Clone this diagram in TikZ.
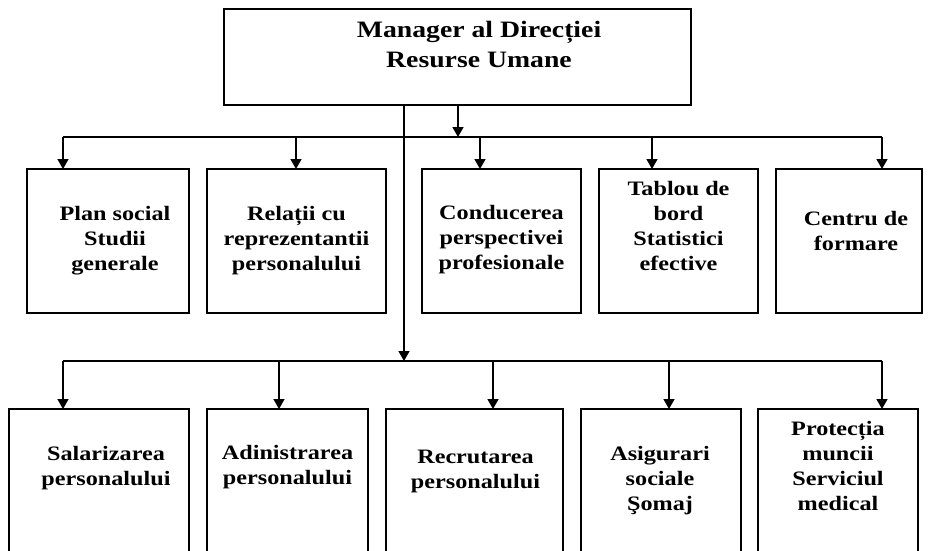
\documentclass[tikz,border=0pt]{standalone}
\usepackage{fontspec}
\newfontfamily\orgfont{Liberation Serif Bold}[FakeStretch=1.18]
\usetikzlibrary{arrows.meta}
\begin{document}
\begin{tikzpicture}[x=1pt,y=-1pt,
  box/.style={draw, line width=1.8pt, inner sep=0pt, outer sep=0pt},
  lbl/.style={font=\orgfont\fontsize{20.5}{25}\selectfont, align=center, anchor=base, inner sep=0pt},
  toplbl/.style={lbl, font=\orgfont\fontsize{23.5}{30}\selectfont},
  link/.style={line width=1.5pt},
  arr/.style={link, -{Triangle[width=11pt,length=10pt]}}]
\clip (0,0) rectangle (929,551);

% head of the department
\node[box, minimum width=467pt, minimum height=96pt] (mgr) at (457.5,57) {};
\node[toplbl] (mgrt) at (479,68) {Manager al Direcției\\Resurse Umane};

% first row of departments
\node[box, minimum width=162pt, minimum height=144pt] (r1a) at (108,241) {};
\node[box, minimum width=179pt, minimum height=144pt] (r1b) at (296.5,241) {};
\node[box, minimum width=159pt, minimum height=144pt] (r1c) at (501.5,241) {};
\node[box, minimum width=159pt, minimum height=144pt] (r1d) at (678.5,241) {};
\node[box, minimum width=146pt, minimum height=144pt] (r1e) at (849,241) {};

% text anchors sit on the baseline of the last line
\node[lbl] (t1a) at (115,270) {Plan social\\Studii\\generale};
\node[lbl] (t1b) at (296.5,270) {Relații cu\\reprezentantii\\personalului};
\node[lbl] (t1c) at (501.5,269) {Conducerea\\perspectivei\\profesionale};
\node[lbl] (t1d) at (678.5,270) {Tablou de\\bord\\Statistici\\efective};
\node[lbl] (t1e) at (856,250) {Centru de\\formare};

% second row of departments
\node[box, minimum width=180pt, minimum height=171pt] (r2a) at (99,494.5) {};
\node[box, minimum width=161pt, minimum height=171pt] (r2b) at (287.5,494.5) {};
\node[box, minimum width=177pt, minimum height=171pt] (r2c) at (474.5,494.5) {};
\node[box, minimum width=160pt, minimum height=171pt] (r2d) at (661,494.5) {};
\node[box, minimum width=160pt, minimum height=171pt] (r2e) at (838,494.5) {};

\node[lbl] (t2a) at (106,485) {Salarizarea\\personalului};
\node[lbl] (t2b) at (287.5,484) {Adinistrarea\\personalului};
\node[lbl] (t2c) at (475.5,488) {Recrutarea\\personalului};
\node[lbl] (t2d) at (660,510) {Asigurari\\sociale\\Şomaj};
\node[lbl] (t2e) at (838,510) {Protecția\\muncii\\Serviciul\\medical};

% bus junctions
\coordinate (m1) at (458,137);
\coordinate (m2) at (404,361);
\coordinate (j1a) at (63,137);
\coordinate (j1b) at (296,137);
\coordinate (j1c) at (480,137);
\coordinate (j1d) at (652,137);
\coordinate (j1e) at (882,137);
\coordinate (j2a) at (63,361);
\coordinate (j2b) at (279,361);
\coordinate (j2c) at (493,361);
\coordinate (j2d) at (669,361);
\coordinate (j2e) at (882,361);

% connectors
\draw[arr] (m1 |- mgr.south) -- (m1);
\draw[arr] (m2 |- mgr.south) -- (m2);
\draw[link] (j1a) -- (j1e);
\draw[link] (j2a) -- (j2e);
\foreach \j/\b in {j1a/r1a, j1b/r1b, j1c/r1c, j1d/r1d, j1e/r1e,
                   j2a/r2a, j2b/r2b, j2c/r2c, j2d/r2d, j2e/r2e}
  \draw[arr] (\j) -- (\j |- \b.north);
\end{tikzpicture}
\end{document}
